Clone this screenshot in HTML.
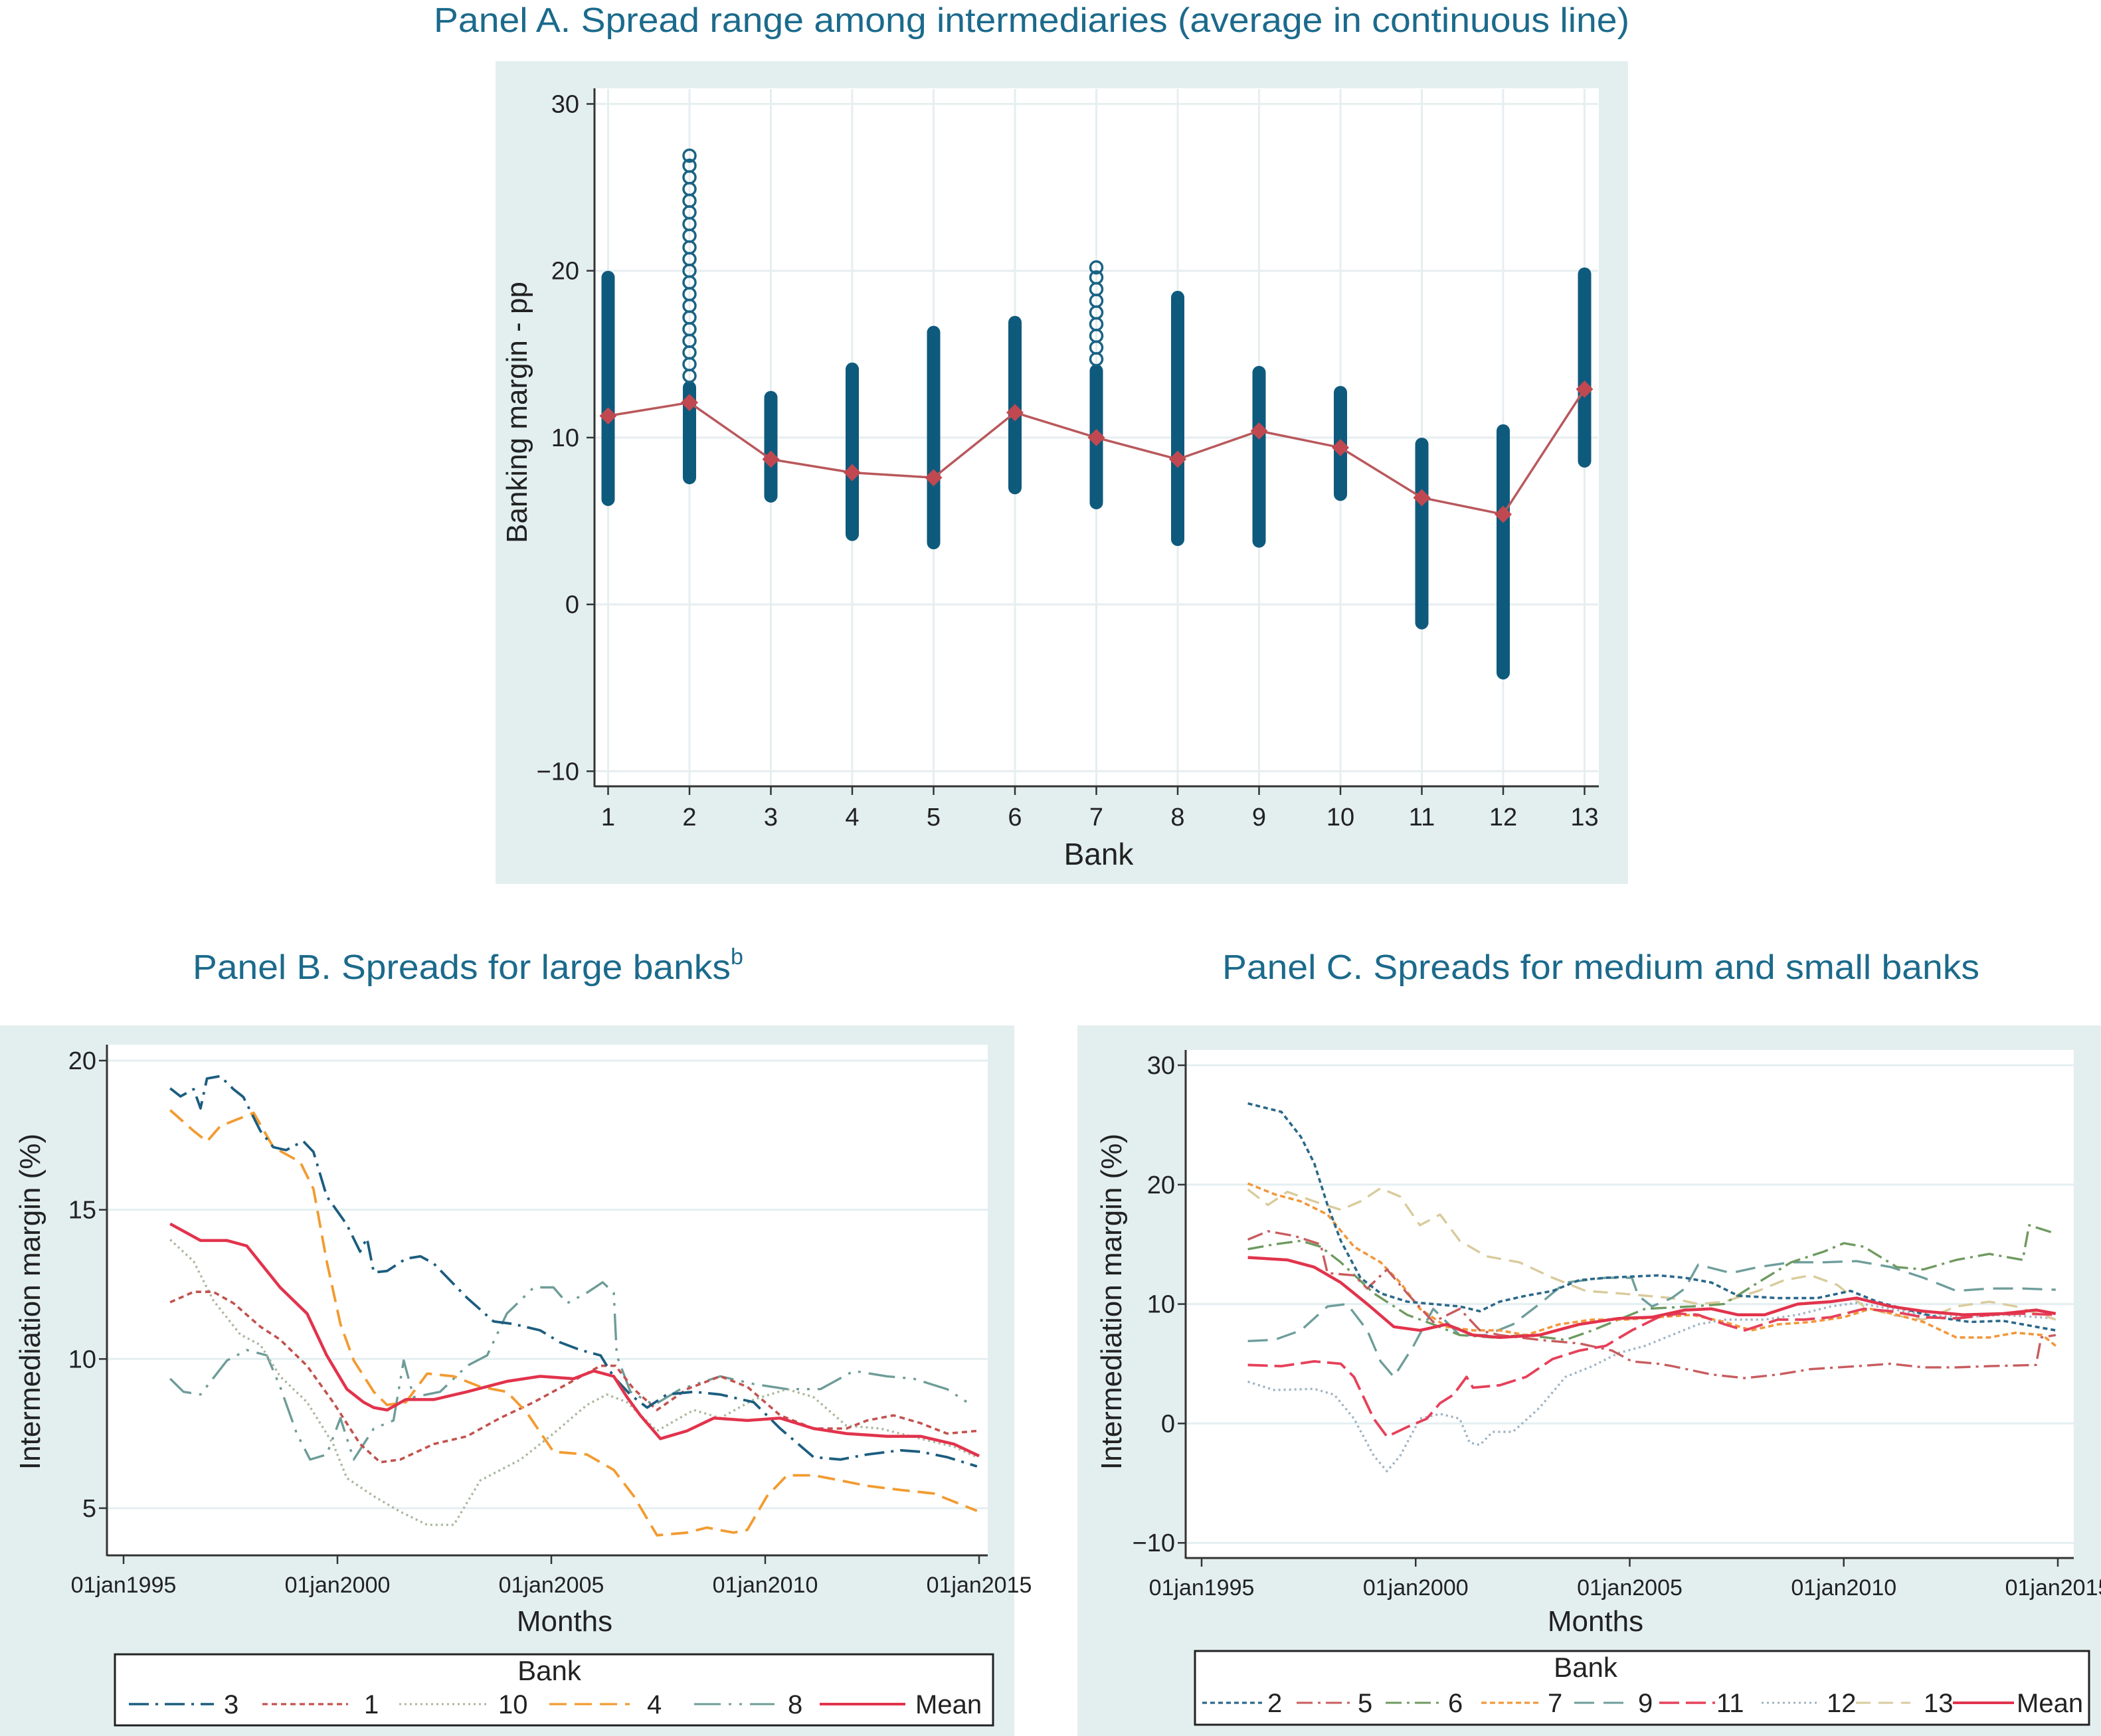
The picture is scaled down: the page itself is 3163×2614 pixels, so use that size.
<!DOCTYPE html>
<html><head><meta charset="utf-8">
<style>
html,body{margin:0;padding:0;background:#fff;}
svg{display:block;font-family:"Liberation Sans",Arial,sans-serif;}
</style></head>
<body>
<svg id="chart" width="3163" height="2614" viewBox="0 0 3163 2614" xmlns="http://www.w3.org/2000/svg">
  <text x="1553" y="48" text-anchor="middle" font-size="52" fill="#1b6a8c" textLength="1800" lengthAdjust="spacingAndGlyphs">Panel A. Spread range among intermediaries (average in continuous line)</text>
  <rect x="746" y="92" width="1705" height="1239" fill="#e3efef"/>
  <rect x="895" y="133" width="1512" height="1051" fill="#fff"/>
  <g id="gA"></g>
  <text transform="translate(793,621) rotate(-90)" text-anchor="middle" font-size="44" fill="#222">Banking margin - pp</text>
  <text x="1654" y="1302" text-anchor="middle" font-size="46" fill="#222">Bank</text>

  <text x="290" y="1474" font-size="52" fill="#1b6a8c" textLength="810" lengthAdjust="spacingAndGlyphs">Panel B. Spreads for large banks</text>
  <text x="1100" y="1452" font-size="34" fill="#1b6a8c">b</text>
  <rect x="0" y="1544" width="1527" height="1070" fill="#e3efef"/>
  <rect x="161" y="1573" width="1326" height="769" fill="#fff"/>
  <g id="gB"></g>
  <text transform="translate(60,1960) rotate(-90)" text-anchor="middle" font-size="44" fill="#222">Intermediation margin (%)</text>
  <text x="850" y="2456" text-anchor="middle" font-size="44" fill="#222">Months</text>
  <rect x="173" y="2491" width="1322" height="107" fill="#fff" stroke="#222" stroke-width="3"/>
  <text x="827" y="2530" text-anchor="middle" font-size="42" fill="#222">Bank</text>
  <g id="legB"></g>

  <text x="1840" y="1474" font-size="52" fill="#1b6a8c" textLength="1140" lengthAdjust="spacingAndGlyphs">Panel C. Spreads for medium and small banks</text>
  <rect x="1622" y="1544" width="1541" height="1070" fill="#e3efef"/>
  <rect x="1785" y="1581" width="1337" height="765" fill="#fff"/>
  <g id="gC"></g>
  <text transform="translate(1688,1960) rotate(-90)" text-anchor="middle" font-size="44" fill="#222">Intermediation margin (%)</text>
  <text x="2402" y="2456" text-anchor="middle" font-size="44" fill="#222">Months</text>
  <rect x="1799" y="2486" width="1346" height="111" fill="#fff" stroke="#222" stroke-width="3"/>
  <text x="2387" y="2525" text-anchor="middle" font-size="42" fill="#222">Bank</text>
  <g id="legC"></g>
</svg>
<script>
const banksA = [1,2,3,4,5,6,7,8,9,10,11,12,13];
const minA  = [6.3,7.6,6.5,4.2,3.7,7.0,6.1,3.9,3.8,6.6,-1.1,-4.1,8.6];
const maxA  = [19.6,26.9,12.4,14.1,16.3,16.9,20.2,18.4,13.9,12.7,9.6,10.4,19.8];
const denseTopA = [19.6,13.0,12.4,14.1,16.3,16.9,14.0,18.4,13.9,12.7,9.6,10.4,19.8];
const meanA = [11.3,12.1,8.7,7.9,7.6,11.5,10.0,8.7,10.4,9.4,6.4,5.4,12.9];
const yTicksA = [30,20,10,0,-10];

const b3 = [[1996.09,19.07],[1996.33,18.8],[1996.64,19.04],[1996.8,18.4],[1996.95,19.4],[1997.26,19.48],[1997.57,19.04],[1997.8,18.78],[1998.2,17.64],[1998.5,17.1],[1998.8,17.0],[1999.2,17.3],[1999.44,16.94],[1999.75,15.45],[2000.22,14.5],[2000.53,13.6],[2000.69,14.05],[2000.85,12.9],[2001.16,12.95],[2001.6,13.36],[2001.94,13.44],[2002.25,13.2],[2003.03,12.05],[2003.65,11.26],[2004.12,11.17],[2004.74,10.96],[2005.2,10.56],[2005.68,10.3],[2006.15,10.12],[2006.46,9.4],[2006.85,8.8],[2007.24,8.37],[2007.7,8.81],[2008.33,8.9],[2008.95,8.81],[2009.73,8.55],[2010.35,7.67],[2011.13,6.71],[2011.76,6.63],[2012.38,6.8],[2013.16,6.94],[2013.63,6.89],[2014.25,6.71],[2014.95,6.4]];
const b1 = [[1996.09,11.9],[1996.64,12.25],[1997.1,12.25],[1997.57,11.87],[1998.2,11.08],[1998.66,10.65],[1999.29,9.77],[1999.9,8.55],[2000.53,7.15],[2001.0,6.54],[2001.47,6.63],[2002.25,7.15],[2003.03,7.41],[2003.8,8.02],[2004.59,8.55],[2005.37,9.16],[2006.15,9.77],[2006.5,9.77],[2006.93,8.99],[2007.47,8.29],[2008.17,8.99],[2008.95,9.42],[2009.58,9.07],[2010.35,8.11],[2011.13,7.67],[2011.9,7.67],[2012.38,7.94],[2013.0,8.11],[2013.63,7.85],[2014.25,7.5],[2014.95,7.59]];
const b10 = [[1996.09,14.0],[1996.64,13.27],[1997.1,11.96],[1997.73,10.82],[1998.2,10.47],[1998.66,9.42],[1999.29,8.55],[1999.9,7.15],[2000.22,6.01],[2000.85,5.4],[2001.47,4.88],[2002.1,4.44],[2002.72,4.44],[2003.34,5.93],[2004.28,6.63],[2005.05,7.5],[2005.83,8.46],[2006.3,8.81],[2006.77,8.55],[2007.47,7.59],[2008.33,8.29],[2008.95,8.02],[2009.73,8.64],[2010.51,8.99],[2011.13,8.72],[2011.9,7.76],[2012.69,7.67],[2013.63,7.33],[2014.41,7.06],[2014.95,6.71]];
const b4 = [[1996.09,18.34],[1996.64,17.64],[1996.95,17.29],[1997.26,17.8],[1998.04,18.25],[1998.5,17.1],[1999.13,16.6],[1999.44,15.7],[1999.75,13.27],[2000.07,11.17],[2000.38,9.95],[2000.85,8.9],[2001.16,8.46],[2001.6,8.55],[2002.1,9.51],[2002.72,9.42],[2003.34,9.07],[2003.96,8.9],[2004.43,8.2],[2005.05,6.89],[2005.83,6.8],[2006.46,6.28],[2006.93,5.4],[2007.47,4.09],[2008.17,4.18],[2008.64,4.35],[2009.26,4.18],[2009.58,4.27],[2010.04,5.4],[2010.51,6.1],[2011.13,6.1],[2011.76,5.93],[2012.38,5.75],[2013.16,5.61],[2013.94,5.49],[2014.95,4.91]];
const b8 = [[1996.09,9.34],[1996.4,8.9],[1996.8,8.81],[1997.42,9.95],[1997.88,10.3],[1998.35,10.12],[1998.66,9.07],[1999.05,7.5],[1999.36,6.63],[1999.75,6.8],[2000.07,8.02],[2000.38,6.63],[2000.85,7.67],[2001.31,7.94],[2001.55,9.95],[2001.78,8.72],[2002.4,8.9],[2003.03,9.77],[2003.5,10.12],[2003.96,11.52],[2004.59,12.4],[2005.05,12.4],[2005.37,11.87],[2005.83,12.22],[2006.2,12.57],[2006.46,12.22],[2006.53,10.12],[2006.85,8.9],[2007.4,8.46],[2008.02,8.99],[2008.95,9.42],[2009.73,9.16],[2010.51,8.99],[2011.29,8.99],[2012.07,9.6],[2012.85,9.42],[2013.47,9.34],[2014.25,8.99],[2014.72,8.55]];
const bMean = [[1996.09,14.53],[1996.8,13.97],[1997.42,13.97],[1997.88,13.79],[1998.66,12.4],[1999.29,11.52],[1999.75,10.12],[2000.22,8.99],[2000.61,8.55],[2000.85,8.37],[2001.16,8.29],[2001.6,8.64],[2002.25,8.64],[2003.03,8.9],[2003.96,9.25],[2004.74,9.42],[2005.52,9.34],[2005.99,9.6],[2006.46,9.42],[2006.77,8.72],[2007.08,8.11],[2007.55,7.33],[2008.17,7.59],[2008.8,8.02],[2009.58,7.94],[2010.35,8.02],[2011.13,7.67],[2011.9,7.5],[2012.85,7.41],[2013.63,7.41],[2014.41,7.15],[2015.0,6.75]];
const yTicksB = [20,15,10,5];
const xTicksYears = [1995,2000,2005,2010,2015];
const xTickLabels = ["01jan1995","01jan2000","01jan2005","01jan2010","01jan2015"];

const c2 = [[1996.08,26.8],[1996.86,26.1],[1997.32,24.0],[1997.63,21.8],[1997.94,18.3],[1998.25,15.3],[1998.71,12.2],[1999.18,10.9],[1999.8,10.2],[2000.41,10.0],[2001.03,9.8],[2001.5,9.4],[2001.96,10.2],[2002.58,10.7],[2003.2,11.1],[2003.82,12.0],[2004.44,12.2],[2005.05,12.3],[2005.67,12.4],[2006.29,12.2],[2006.91,11.8],[2007.53,10.7],[2008.46,10.5],[2009.38,10.5],[2010.16,11.1],[2010.78,10.2],[2011.4,9.6],[2012.17,8.9],[2012.95,8.5],[2013.72,8.6],[2014.18,8.3],[2014.95,7.8]];
const c5 = [[1996.08,15.4],[1996.55,16.1],[1997.17,15.7],[1997.78,15.0],[1997.94,12.6],[1998.56,12.4],[1998.87,11.3],[1999.33,12.9],[1999.8,10.9],[2000.41,8.5],[2001.03,9.6],[2001.5,7.8],[2001.96,7.4],[2002.89,7.0],[2003.82,6.7],[2004.59,6.1],[2005.05,5.2],[2005.67,5.0],[2006.0,4.8],[2006.91,4.1],[2007.69,3.8],[2008.46,4.1],[2009.23,4.55],[2010.32,4.8],[2011.1,5.0],[2011.86,4.7],[2012.63,4.7],[2013.4,4.8],[2014.49,4.9],[2014.61,7.2],[2014.95,7.4]];
const c6 = [[1996.08,14.6],[1996.7,15.0],[1997.32,15.3],[1997.78,14.8],[1998.25,13.5],[1999.02,10.9],[1999.8,9.1],[2000.41,8.3],[2001.03,7.4],[2001.8,7.2],[2002.58,7.4],[2003.5,7.0],[2004.13,7.8],[2004.74,8.7],[2005.36,9.6],[2006.45,9.8],[2007.2,10.0],[2008.0,11.8],[2008.77,13.5],[2009.54,14.4],[2010.0,15.1],[2010.47,14.8],[2011.24,13.1],[2011.86,12.9],[2012.63,13.7],[2013.4,14.2],[2014.18,13.7],[2014.33,16.6],[2014.95,15.9]];
const c7 = [[1996.08,20.1],[1996.7,19.2],[1997.32,18.6],[1997.94,17.5],[1998.56,14.8],[1999.18,13.5],[1999.64,11.8],[2000.1,9.6],[2000.72,8.1],[2001.34,7.8],[2001.96,7.8],[2002.58,7.4],[2003.35,8.3],[2004.13,8.7],[2004.9,8.7],[2005.67,8.9],[2006.45,9.1],[2007.22,8.5],[2007.84,7.8],[2008.46,8.3],[2009.23,8.5],[2010.0,8.9],[2010.62,9.6],[2011.24,9.1],[2011.86,8.5],[2012.63,7.2],[2013.4,7.2],[2014.02,7.6],[2014.64,7.4],[2014.95,6.5]];
const c9 = [[1996.08,6.9],[1996.7,7.0],[1997.32,7.8],[1997.94,9.8],[1998.4,10.0],[1998.87,7.8],[1999.18,5.2],[1999.49,3.9],[1999.95,6.5],[2000.41,9.6],[2001.03,7.4],[2001.65,7.4],[2002.27,8.3],[2002.89,10.0],[2003.5,11.8],[2004.44,12.2],[2005.05,12.2],[2005.2,10.7],[2005.52,9.8],[2005.98,10.5],[2006.29,11.3],[2006.6,13.3],[2007.37,12.6],[2008.0,13.1],[2008.77,13.5],[2009.54,13.5],[2010.3,13.6],[2011.1,13.1],[2011.86,12.2],[2012.63,11.1],[2013.4,11.3],[2014.18,11.3],[2014.95,11.2]];
const c11 = [[1996.08,4.9],[1996.86,4.8],[1997.63,5.2],[1998.25,5.0],[1998.56,3.9],[1999.02,0.4],[1999.33,-1.1],[1999.8,-0.3],[2000.26,0.4],[2000.57,1.7],[2000.88,2.4],[2001.19,3.9],[2001.34,3.0],[2001.96,3.2],[2002.58,3.9],[2003.2,5.4],[2003.82,6.1],[2004.44,6.5],[2005.05,7.8],[2005.67,8.9],[2006.14,9.2],[2006.6,9.1],[2007.22,8.3],[2007.69,7.8],[2008.46,8.7],[2009.08,8.7],[2009.7,8.9],[2010.47,9.6],[2011.1,9.4],[2011.86,8.9],[2012.63,8.8],[2013.4,9.1],[2014.18,9.2],[2014.95,9.1]];
const c12 = [[1996.08,3.5],[1996.7,2.8],[1997.63,2.9],[1998.1,2.4],[1998.56,0.4],[1999.02,-2.7],[1999.33,-4.0],[1999.64,-2.7],[2000.1,0.4],[2000.57,0.8],[2001.03,0.4],[2001.26,-1.6],[2001.5,-1.8],[2001.8,-0.7],[2002.27,-0.7],[2002.89,1.3],[2003.5,3.9],[2004.13,4.8],[2004.74,5.9],[2005.36,6.5],[2005.98,7.4],[2006.6,8.3],[2007.22,8.7],[2008.15,8.7],[2008.92,9.1],[2009.7,9.8],[2010.3,10.1],[2011.1,9.6],[2011.86,9.1],[2012.79,8.9],[2013.72,9.1],[2014.95,8.8]];
const c13 = [[1996.08,19.6],[1996.55,18.3],[1997.0,19.4],[1997.63,18.6],[1998.25,17.9],[1998.71,18.6],[1999.18,19.7],[1999.64,19.0],[2000.1,16.6],[2000.57,17.5],[2001.03,15.3],[2001.65,14.0],[2002.42,13.5],[2003.2,12.2],[2003.97,11.1],[2004.74,10.9],[2005.36,10.7],[2005.98,10.5],[2006.6,10.0],[2007.22,10.2],[2008.0,11.1],[2008.61,12.0],[2009.23,12.4],[2009.85,11.6],[2010.47,9.8],[2011.1,9.1],[2011.86,8.7],[2012.63,9.8],[2013.4,10.2],[2014.02,9.8],[2014.95,8.7]];
const cMean = [[1996.08,13.9],[1997.0,13.7],[1997.63,13.1],[1998.25,11.8],[1998.87,10.0],[1999.49,8.1],[2000.1,7.8],[2000.72,8.3],[2001.34,7.4],[2001.96,7.2],[2002.89,7.4],[2003.82,8.3],[2004.74,8.8],[2005.52,8.9],[2006.29,9.5],[2006.91,9.6],[2007.53,9.1],[2008.15,9.1],[2008.92,10.0],[2009.7,10.2],[2010.3,10.5],[2011.1,9.8],[2011.86,9.4],[2012.79,9.1],[2013.72,9.2],[2014.49,9.5],[2014.95,9.2]];
const yTicksC = [30,20,10,0,-10];

const NS = "http://www.w3.org/2000/svg";
function mk(tag, attrs, parent){ const e=document.createElementNS(NS,tag); for(const k in attrs) e.setAttribute(k,attrs[k]); parent.appendChild(e); return e; }

const gA = document.getElementById('gA');
const xA = b => 915.5 + (b-1)*122.5;
const yA = v => 156.5 + (30-v)*25.12;
yTicksA.forEach(t=>{
  const gl = mk('line',{x1:896,x2:2406,y1:yA(t),y2:yA(t),stroke:'#e6eef0','stroke-width':3},gA);
  
  
  const tk = mk('line',{x1:883,x2:895,y1:yA(t),y2:yA(t),stroke:'#333','stroke-width':2.5},gA);
  
  
  const lb = mk('text',{x:872,y:yA(t)+13,'text-anchor':'end','font-size':38,fill:'#222'},gA);
  lb.textContent = t<0 ? '\u2212'+Math.abs(t) : String(t);
  
  
});
banksA.forEach(b=>{
  const gl = mk('line',{x1:xA(b),x2:xA(b),y1:134,y2:1183,stroke:'#e6eef0','stroke-width':3},gA);
  
  
});
mk('line',{x1:895,x2:895,y1:133,y2:1185,stroke:'#333','stroke-width':3},gA);
mk('line',{x1:895,x2:2407,y1:1184,y2:1184,stroke:'#333','stroke-width':3},gA);
banksA.forEach((b,i)=>{
  const tk = mk('line',{x1:xA(b),x2:xA(b),y1:1184,y2:1197,stroke:'#333','stroke-width':2.5},gA);
  
  
  const lb = mk('text',{x:xA(b),y:1243,'text-anchor':'middle','font-size':38,fill:'#222'},gA);
  lb.textContent = String(b);
  
  
  const col = mk('g',{},gA);
  
  
  const dTop = Math.min(denseTopA[i], maxA[i]);
  const r = mk('rect',{x:xA(b)-10,y:yA(dTop)-10,width:20,height:yA(minA[i])-yA(dTop)+20,rx:10,fill:'#0e5a7c'},col);
  
  
  for(let v=dTop+0.7; v<=maxA[i]+0.01; v+=0.7){
    const c = mk('circle',{cx:xA(b),cy:yA(v),r:9,fill:'none',stroke:'#1a6384','stroke-width':3.5},col);
    
    
  }
  if(denseTopA[i] < maxA[i]){
    const c = mk('circle',{cx:xA(b),cy:yA(maxA[i]),r:9,fill:'none',stroke:'#1a6384','stroke-width':3.5},col);
    
    
  }
});
const meanPath = mk('polyline',{points:banksA.map((b,i)=>xA(b)+','+yA(meanA[i])).join(' '),fill:'none',stroke:'#b9585c','stroke-width':3.5},gA);


banksA.forEach((b,i)=>{
  const cx=xA(b), cy=yA(meanA[i]);
  const m = mk('polygon',{points:`${cx},${cy-13} ${cx+13},${cy} ${cx},${cy+13} ${cx-13},${cy}`,fill:'#c04850'},gA);
  
  
});

function axes(g, xf, yf, yTicks, left, right, top, bottom, prefix){
  yTicks.forEach(t=>{
    const gl = mk('line',{x1:left+1,x2:right,y1:yf(t),y2:yf(t),stroke:'#e4eff1','stroke-width':3},g);
    
    
    const tk = mk('line',{x1:left-12,x2:left,y1:yf(t),y2:yf(t),stroke:'#333','stroke-width':2.5},g);
    
    
    const lb = mk('text',{x:left-16,y:yf(t)+13,'text-anchor':'end','font-size':38,fill:'#222'},g);
    lb.textContent = t<0 ? '\u2212'+Math.abs(t) : String(t);
    
    
  });
  mk('line',{x1:left,x2:left,y1:top,y2:bottom+1,stroke:'#333','stroke-width':3},g);
  mk('line',{x1:left,x2:right,y1:bottom,y2:bottom,stroke:'#333','stroke-width':3},g);
  xTicksYears.forEach((yr,i)=>{
    const tk = mk('line',{x1:xf(yr),x2:xf(yr),y1:bottom,y2:bottom+13,stroke:'#333','stroke-width':2.5},g);
    
    
    const lb = mk('text',{x:xf(yr),y:bottom+56,'text-anchor':'middle','font-size':34,fill:'#222'},g);
    lb.textContent = xTickLabels[i];
    
    
  });
}
function series(g, pts, xf, yf, color, dash, w, name){
  const p = mk('polyline',{points:pts.map(d=>xf(d[0]).toFixed(1)+','+yf(d[1]).toFixed(1)).join(' '),fill:'none',stroke:color,'stroke-width':w,'stroke-dasharray':dash,'stroke-linejoin':'round'},g);
  
  
}
function legendEntry(g, x1, x2, y, lx, color, dash, w, label, name){
  const l = mk('line',{x1:x1,x2:x2,y1:y,y2:y,stroke:color,'stroke-width':w,'stroke-dasharray':dash},g);
  
  
  const t = mk('text',{x:lx,y:y+14,'font-size':40,fill:'#222'},g);
  t.textContent = label;
  
  
}

const gB = document.getElementById('gB');
const xB = yr => 186 + (yr-1995)*64.4;
const yB = v => 1597 + (20-v)*44.93;
axes(gB, xB, yB, yTicksB, 161, 1487, 1573, 2342, 'panel-b');
const stylesB = [
  [b8,'#6e9c98','40 12 4 12 4 12',3.4,'series-bank-8'],
  [b10,'#a9b89e','3 5',3.4,'series-bank-10'],
  [b1,'#c2524e','8 6',3.6,'series-bank-1'],
  [b4,'#f29b30','26 12',3.8,'series-bank-4'],
  [b3,'#1c5d7f','30 10 4 10',3.8,'series-bank-3'],
  [bMean,'#e2334c','none',4.5,'series-mean-b']
];
stylesB.forEach(s=>series(gB,s[0],xB,yB,s[1],s[2],s[3],s[4]));
const legB = document.getElementById('legB');
const yLB = 2566;
legendEntry(legB,194,322,yLB,337,'#1c5d7f','30 10 4 10',3.4,'3','legend-b-bank-3');
legendEntry(legB,395,524,yLB,548,'#c2524e','8 6',3.2,'1','legend-b-bank-1');
legendEntry(legB,601,732,yLB,750,'#a9b89e','3 5',3,'10','legend-b-bank-10');
legendEntry(legB,827,948,yLB,974,'#f29b30','26 12',3.2,'4','legend-b-bank-4');
legendEntry(legB,1045,1166,yLB,1186,'#6e9c98','40 12 4 12 4 12',3,'8','legend-b-bank-8');
legendEntry(legB,1234,1363,yLB,1378,'#e2334c','none',4,'Mean','legend-b-mean');

const gC = document.getElementById('gC');
const xC = yr => 1809 + (yr-1995)*64.45;
const yC = v => 1604 + (30-v)*17.98;
axes(gC, xC, yC, yTicksC, 1785, 3122, 1581, 2346, 'panel-c');
const stylesC = [
  [c12,'#9fb3c2','3 5',3.4,'series-bank-12'],
  [c13,'#d9cb9c','22 12',3.4,'series-bank-13'],
  [c9,'#6e9e9b','30 14',3.4,'series-bank-9'],
  [c6,'#6f9a60','24 8 4 8',3.4,'series-bank-6'],
  [c7,'#f2973a','8 5',3.6,'series-bank-7'],
  [c5,'#c85c5f','24 8 4 8',3.4,'series-bank-5'],
  [c2,'#2a6889','7 5',3.6,'series-bank-2'],
  [c11,'#e6405a','30 10',3.8,'series-bank-11'],
  [cMean,'#e2334c','none',4.5,'series-mean-c']
];
stylesC.forEach(s=>series(gC,s[0],xC,yC,s[1],s[2],s[3],s[4]));
const legC = document.getElementById('legC');
const yLC = 2564;
legendEntry(legC,1810,1900,yLC,1908,'#2a6889','7 5',3.2,'2','legend-c-bank-2');
legendEntry(legC,1952,2035,yLC,2044,'#c85c5f','24 8 4 8',3,'5','legend-c-bank-5');
legendEntry(legC,2086,2170,yLC,2180,'#6f9a60','24 8 4 8',3,'6','legend-c-bank-6');
legendEntry(legC,2230,2320,yLC,2330,'#f2973a','8 5',3.2,'7','legend-c-bank-7');
legendEntry(legC,2370,2458,yLC,2466,'#6e9e9b','30 14',3,'9','legend-c-bank-9');
legendEntry(legC,2498,2582,yLC,2584,'#e6405a','30 10',3.4,'11','legend-c-bank-11');
legendEntry(legC,2652,2740,yLC,2750,'#9fb3c2','3 5',3,'12','legend-c-bank-12');
legendEntry(legC,2794,2876,yLC,2896,'#d9cb9c','22 12',3,'13','legend-c-bank-13');
legendEntry(legC,2940,3032,yLC,3036,'#e2334c','none',4,'Mean','legend-c-mean');
</script>
</body></html>
